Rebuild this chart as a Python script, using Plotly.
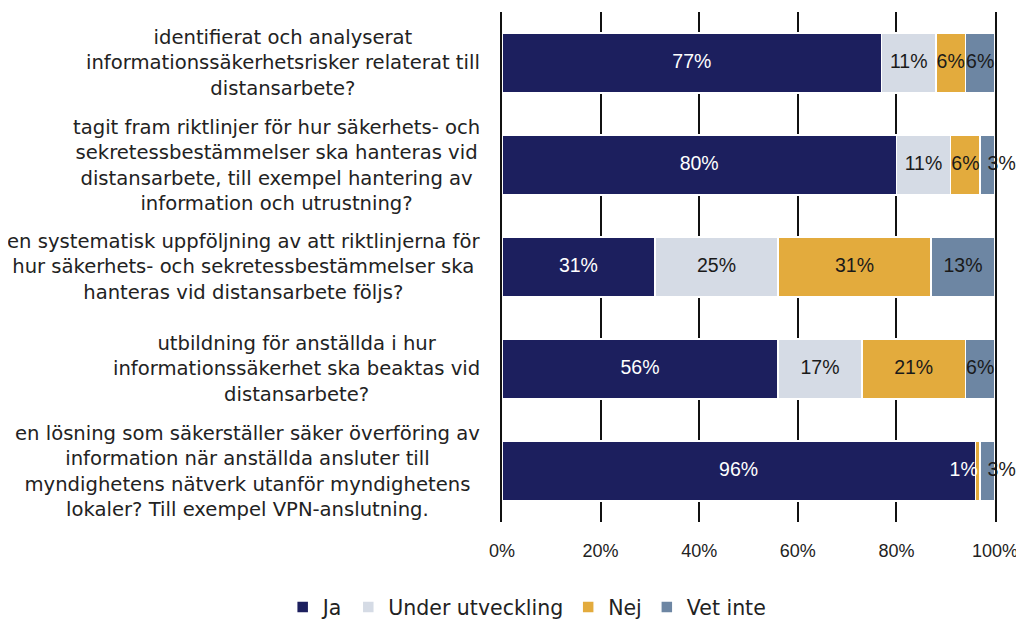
import plotly.graph_objects as go

categories = [
    "identifierat och analyserat<br>informationssäkerhetsrisker relaterat till<br>distansarbete?",
    "tagit fram riktlinjer för hur säkerhets- och<br>sekretessbestämmelser ska hanteras vid<br>distansarbete, till exempel hantering av<br>information och utrustning?",
    "en systematisk uppföljning av att riktlinjerna för<br>hur säkerhets- och sekretessbestämmelser ska<br>hanteras vid distansarbete följs?",
    "utbildning för anställda i hur<br>informationssäkerhet ska beaktas vid<br>distansarbete?",
    "en lösning som säkerställer säker överföring av<br>information när anställda ansluter till<br>myndighetens nätverk utanför myndighetens<br>lokaler? Till exempel VPN-anslutning.",
]
ja = [77, 80, 31, 56, 96]
under_utveckling = [11, 11, 25, 17, 0]
nej = [6, 6, 31, 21, 1]
vet_inte = [6, 3, 13, 6, 3]

tick_vals = [0, 20, 40, 60, 80, 100]
tick_text = ["0%", "20%", "40%", "60%", "80%", "100%"]

dark = "#1a1a1a"
mc = "middle center"
series = [
    ("Ja", ja, "#1c1f5e", ["white"] * 5, [mc] * 5),
    ("Under utveckling", under_utveckling, "#d5dbe5", [dark] * 5, [mc] * 5),
    ("Nej", nej, "#e3ab3d", [dark] * 4 + ["white"], [mc] * 4 + ["middle left"]),
    ("Vet inte", vet_inte, "#6d86a3", [dark] * 5, [mc, "middle right", mc, mc, "middle right"]),
]

label_font = "DejaVu Sans, Open Sans, sans-serif"
num_font = "Liberation Sans, Arial, sans-serif"

ids = list(range(len(categories)))

fig = go.Figure()

# stacked bars
for name, vals, color, _, _ in series:
    fig.add_trace(go.Bar(
        y=ids,
        x=vals,
        orientation="h",
        name=name,
        marker=dict(color=color, line=dict(color="white", width=1.5)),
        hoverinfo="x+name",
    ))

# value labels on top of all bars, centred on each segment
base = [0] * len(ids)
for name, vals, color, tcolors, tpos in series:
    mids = [b + v / 2 for b, v in zip(base, vals)]
    fig.add_trace(go.Scatter(
        x=mids,
        y=ids,
        mode="text",
        text=[f"{v}%" if v > 0 else "" for v in vals],
        textposition=tpos,
        textfont=dict(color=tcolors, size=19.5, family=num_font),
        showlegend=False,
        hoverinfo="skip",
        cliponaxis=False,
    ))
    base = [b + v for b, v in zip(base, vals)]

# category labels, centred multi-line text left of the bars
for i, cat in enumerate(categories):
    fig.add_annotation(
        x=-0.04, xref="paper", xanchor="right",
        y=i, yref="y", yanchor="middle",
        text=cat, showarrow=False, align="center",
        font=dict(size=19.6, color="#222222", family=label_font),
    )

fig.update_layout(
    barmode="stack",
    bargap=0.41,
    width=1016,
    height=612,
    margin=dict(l=494, r=29, t=4, b=98),
    plot_bgcolor="white",
    paper_bgcolor="white",
    showlegend=True,
    legend=dict(
        orientation="h", x=0.511, xref="container", xanchor="center",
        y=0.021, yref="container", yanchor="middle",
        font=dict(size=20.5, color="#222222", family=label_font),
        traceorder="normal",
    ),
    xaxis=dict(
        range=[0, 100], tickvals=tick_vals, ticktext=tick_text,
        showgrid=True, gridcolor="#111111", gridwidth=1.5,
        zeroline=False, showline=False,
        tickfont=dict(size=18, color="#222222", family=num_font),
        ticks="", ticklabelstandoff=16, fixedrange=True,
    ),
    yaxis=dict(
        showticklabels=False, showgrid=False,
        zeroline=False, range=[4.5, -0.5], fixedrange=True,
        showline=True, mirror=True, linecolor="#111111", linewidth=1.5,
    ),
)

fig.write_html("out.html", config={"displayModeBar": False})
